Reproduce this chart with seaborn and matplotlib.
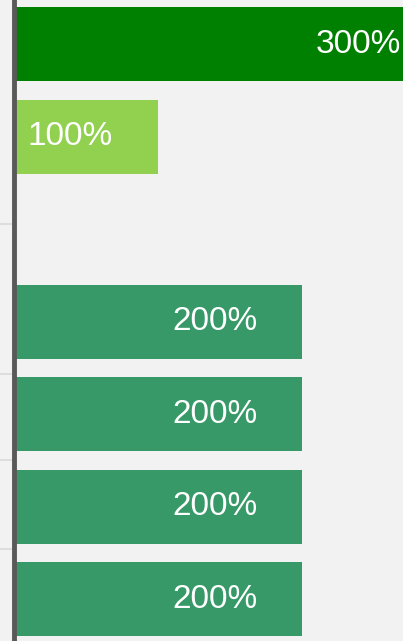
import numpy as np
import pandas as pd
import matplotlib
matplotlib.use("Agg")
import matplotlib.pyplot as plt
import seaborn as sns

# data (third row has no bar)
categories = ["A", "B", "C", "D", "E", "F", "G"]
values = [300, 100, np.nan, 200, 200, 200, 200]
labels = ["300%", "100%", "", "200%", "200%", "200%", "200%"]
colors = ["#008000", "#92d050", "#379968", "#379968", "#379968", "#379968", "#379968"]

df = pd.DataFrame({"category": categories, "value": values})

sns.set_style("white")
plt.rcParams["font.family"] = ["Liberation Sans", "DejaVu Sans"]

fig = plt.figure(figsize=(4.03, 6.41), dpi=100)
fig.patch.set_facecolor("#f2f2f2")
ax = fig.add_axes([14 / 403, 0, 1 - 14 / 403, 1])
ax.set_facecolor("#f2f2f2")

sns.barplot(data=df, y="category", x="value", hue="category", order=categories,
            hue_order=categories, palette=dict(zip(categories, colors)),
            orient="h", width=0.8, legend=False, errorbar=None, ax=ax,
            saturation=1, linewidth=0)

# value labels, right aligned a bit inside the bar end
for i, (v, lab) in enumerate(zip(values, labels)):
    if np.isnan(v):
        continue
    ax.annotate(lab, xy=(v, i), xytext=(-45, 0), textcoords="offset pixels",
                ha="right", va="center", color="white", fontsize=24,
                annotation_clip=False)

ax.set_xlim(0, 270)
ax.set_ylim(6.454, -0.476)

for s in ["top", "right", "bottom"]:
    ax.spines[s].set_visible(False)
ax.spines["left"].set_color("#595959")
ax.spines["left"].set_linewidth(3.5)

ax.set_xticks([])
ax.set_yticks([1.946, 3.57, 4.50, 5.46])
ax.set_yticklabels([])
ax.tick_params(axis="y", left=True, length=10, width=1.2, color="#d9d9d9", direction="out")
ax.set_xlabel("")
ax.set_ylabel("")

fig.savefig("out.png", dpi=100, facecolor=fig.get_facecolor())
